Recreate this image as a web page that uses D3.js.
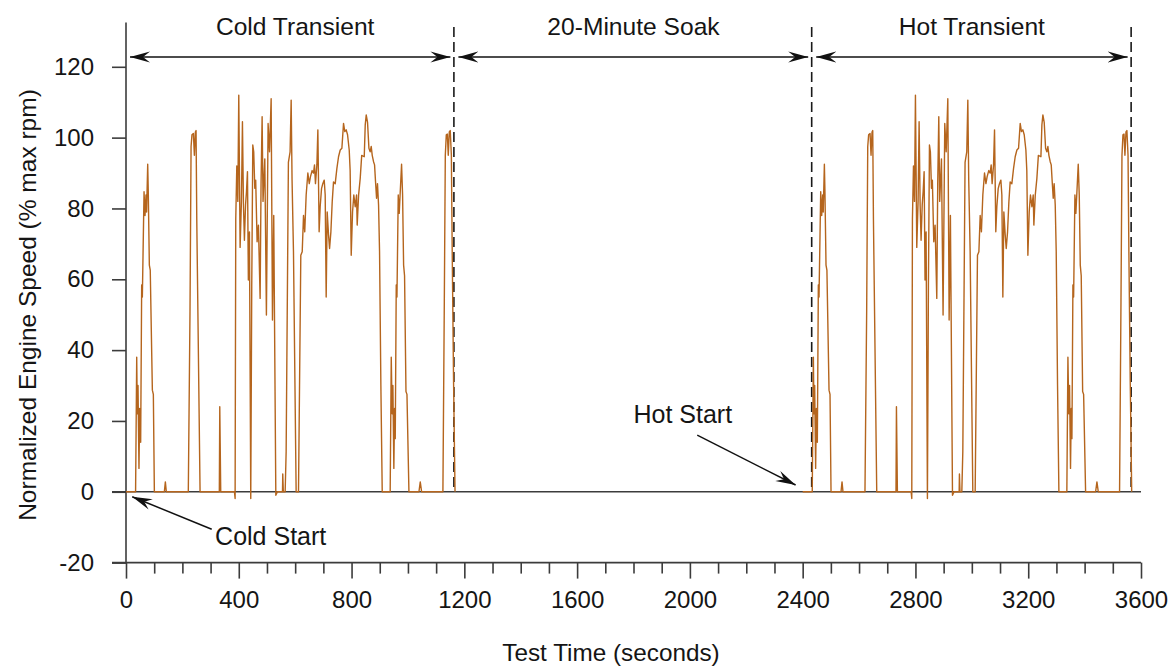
<!DOCTYPE html>
<html>
<head>
<meta charset="utf-8">
<script src="https://cdn.jsdelivr.net/npm/d3@7"></script>
<style>
  html, body { margin: 0; padding: 0; background: #ffffff; }
  svg { display: block; font-family: "Liberation Sans", Arial, sans-serif; }
</style>
</head>
<body>
<svg id="chart" width="1172" height="667"></svg>
<script>
// ---------------- DATA ----------------
// One FTP transient cycle (time in s, normalized speed in % of max rpm)
const cycleTime = [
  0, 34, 38, 40, 42.6, 46, 48.6, 52, 55.6, 58, 64, 67.5, 71, 73, 77, 79, 82.8, 86, 93.5, 97, 100.6,
  136, 139.6, 143, 221, 227, 230.8, 234, 239, 242.5, 246, 248.5, 251, 262.7,
  331, 332.6, 336, 384.6, 387, 389.3, 393, 396.6, 400, 404.7, 409.4, 413, 416.6, 420, 424, 427.3,
  430.8, 434, 437.8, 442.5, 446, 449.7, 453, 456.8, 460, 465, 469.7, 475.7, 479, 482.8, 486, 492.3,
  498, 504, 509, 514.8, 519.5, 524, 531.4, 537, 555, 556, 558, 564.5, 568, 576, 582, 585.8, 589, 594,
  603.5, 611.8, 620, 625, 629.6, 634, 639, 645, 650, 654.3, 660, 665, 668.6, 672, 677, 680.5, 685,
  688.7, 693.5, 698, 703, 706.5, 710, 713.6, 718.3, 722, 726.7, 731.4, 736, 742, 748, 753.8, 759.8,
  765.7, 771.5, 776, 781, 785.8, 791.7, 795, 798.8, 803.5, 808, 813, 817.7, 820, 825, 830.7, 836,
  845, 848.5, 852, 856.7, 861.6, 866, 869.8, 873.3, 878, 881.6, 885, 888.7, 892, 895.8, 899.3, 904,
  908.8, 937, 940.8, 944, 946.6, 950, 952.6, 955, 958.5, 961, 965.6, 969, 972.7, 977.4, 981, 984.6,
  988, 993, 996.5, 1003.5, 1039, 1043.7, 1048.5, 1124, 1129, 1132.5, 1136, 1139.7, 1143, 1146.7,
  1150, 1154, 1157, 1162, 1167
];
const cycleSpeed = [
  0, 0, 38, 22, 30, 6.6, 23.5, 14, 58.4, 55, 84.7, 78, 83.8, 79, 92.5, 84.7, 64, 62.6, 28.7, 27.5, 0,
  0, 2.8, 0, 0, 51, 97.5, 100.8, 101.2, 95, 101.6, 102, 77, 0,
  0, 24, 0, 0, -1.9, 77, 92, 82, 112, 69, 82, 104.5, 81, 71, 81, 84.7,
  90.4, 59.8, 73.4, -1.9, 58, 97.9, 96, 85.7, 88, 70.6, 75.3, 54.6, 87, 105.9, 82, 94,
  49.9, 104, 96, 111, 48.5, 78, -1, 0, 0, 5, 0, 0, 11.3, 93, 96, 110.6, 88, 67.8,
  0, 0, 66.8, 67.8, 78, 73.4, 83.8, 90, 87, 89, 90.7, 90, 92.3, 87, 92.3, 102.2, 73.4,
  80.5, 85.6, 87, 88, 83.8, 55, 79, 72.6, 68.7, 73.4, 81.9, 87.5, 87, 91.3, 94.6, 96.5,
  97, 104, 101.7, 102.2, 100.8, 96.5, 90.7, 66.8, 79, 83.8, 80.5, 83.8, 75.3, 83.8, 88.5, 95,
  94.6, 103.6, 106.4, 104.3, 97, 96, 97.5, 95, 93.2, 92.3, 87.6, 82.9, 87, 81, 67.8, 30,
  0, 0, 38, 22, 30, 6.6, 23.5, 15, 58.4, 55, 83.8, 78.6, 84.7, 92.5, 83.8, 64,
  61, 28.3, 27.5, 0, 0, 2.8, 0, 0, 53.7, 95, 100.8, 101, 95, 101.6,
  102, 95, 67.8, 30, 0
];
// The cycle is run twice: cold start at 0 s, hot start after the soak
const cycleOffsets = [0, 2400];

// Test phases
const phaseBounds = [0, 1163, 2432, 3565];
const phaseNames = ["Cold Transient", "20-Minute Soak", "Hot Transient"];
const phaseLabelTimes = [600, 1800, 3000];

// Axes
const yTicks = [-20, 0, 20, 40, 60, 80, 100, 120];
const yTickLabels = ["-20", "0", "20", "40", "60", "80", "100", "120"];
const xMajorTicks = [0, 400, 800, 1200, 1600, 2000, 2400, 2800, 3200, 3600];
const xTickLabels = ["0", "400", "800", "1200", "1600", "2000", "2400", "2800", "3200", "3600"];
const xMinorTicks = [100, 200, 300, 500, 600, 700, 900, 1000, 1100, 1300, 1400, 1500, 1700, 1800,
  1900, 2100, 2200, 2300, 2500, 2600, 2700, 2900, 3000, 3100, 3300, 3400, 3500];

// Annotations (data coordinates)
const annoLabels = ["Cold Start", "Hot Start"];
const annoTextT = [316, 1800];
const annoTextV = [-15, 19.4];
const annoFromT = [304, 2026];
const annoFromV = [-10.6, 16];
const annoToT = [22, 2375];
const annoToV = [-1.4, 1.9];

// ---------------- CHART ----------------
const svg = d3.select("#chart");
const W = 1172, H = 667;
const x = d3.scaleLinear().domain([0, 3600]).range([126, 1141]);
const y = d3.scaleLinear().domain([-20, 120]).range([562.6, 66.8]);
const yAxisTop = 132.5;

const axisColor = "#3c3c3c";
const textColor = "#151515";
const traceColor = "#b5651d";
const fontSize = 24;
const fontFamily = '"Liberation Sans", Arial, sans-serif';

svg.append("rect").attr("width", W).attr("height", H).attr("fill", "#fff");

const defs = svg.append("defs");
defs.append("marker")
  .attr("id", "arrow")
  .attr("viewBox", "-20 -6 21 12")
  .attr("refX", 0).attr("refY", 0)
  .attr("markerUnits", "userSpaceOnUse")
  .attr("markerWidth", 21).attr("markerHeight", 12)
  .attr("orient", "auto-start-reverse")
  .append("path")
  .attr("d", "M0,0 L-20,-5.5 L-13,0 L-20,5.5 Z")
  .attr("fill", "#111");

// Zero line
svg.append("line")
  .attr("x1", x(0) - 14).attr("x2", x(3600))
  .attr("y1", y(0)).attr("y2", y(0))
  .attr("stroke", axisColor).attr("stroke-width", 1.6);

// Y axis
const yAxis = svg.append("g")
  .attr("transform", `translate(${x(0)},0)`)
  .call(d3.axisLeft(y).tickValues(yTicks).tickSize(14).tickPadding(18)
    .tickFormat((d, i) => yTickLabels[i]));
yAxis.select(".domain").remove();
yAxis.selectAll(".tick line").attr("stroke", axisColor).attr("stroke-width", 1.6);
yAxis.selectAll(".tick text").attr("fill", textColor).style("font-size", fontSize + "px")
  .style("font-family", fontFamily);
svg.append("line")
  .attr("x1", x(0)).attr("x2", x(0))
  .attr("y1", y(yAxisTop)).attr("y2", y(-20))
  .attr("stroke", axisColor).attr("stroke-width", 1.6);

// X axis
const xAxisMajor = svg.append("g")
  .attr("transform", `translate(0,${y(-20)})`)
  .call(d3.axisBottom(x).tickValues(xMajorTicks).tickSize(16).tickPadding(12.5)
    .tickFormat((d, i) => xTickLabels[i]));
xAxisMajor.select(".domain").remove();
xAxisMajor.selectAll(".tick line").attr("stroke", axisColor).attr("stroke-width", 1.6);
xAxisMajor.selectAll(".tick text").attr("fill", textColor).style("font-size", fontSize + "px")
  .style("font-family", fontFamily);
const xAxisMinor = svg.append("g")
  .attr("transform", `translate(0,${y(-20)})`)
  .call(d3.axisBottom(x).tickValues(xMinorTicks).tickSize(11).tickFormat(""));
xAxisMinor.select(".domain").remove();
xAxisMinor.selectAll(".tick line").attr("stroke", axisColor).attr("stroke-width", 1.6);
svg.append("line")
  .attr("x1", x(0) - 14).attr("x2", x(3600))
  .attr("y1", y(-20)).attr("y2", y(-20))
  .attr("stroke", axisColor).attr("stroke-width", 1.6);

// Axis titles
svg.append("text")
  .attr("x", 611).attr("y", 661)
  .attr("text-anchor", "middle")
  .attr("fill", textColor).style("font-size", "24.3px")
  .text("Test Time (seconds)");
svg.append("text")
  .attr("transform", "translate(36,305) rotate(-90)")
  .attr("text-anchor", "middle")
  .attr("fill", textColor).style("font-size", "24.5px")
  .text("Normalized Engine Speed (% max rpm)");

// Phase boundaries (dashed)
svg.selectAll(".phase-line")
  .data(phaseBounds.slice(1))
  .join("line")
  .attr("class", "phase-line")
  .attr("x1", d => x(d)).attr("x2", d => x(d))
  .attr("y1", 27).attr("y2", y(0))
  .attr("stroke", "#1a1a1a").attr("stroke-width", 1.6)
  .attr("stroke-dasharray", "10,5");

// Phase arrows
const arrowY = 57;
svg.selectAll(".phase-arrow")
  .data(d3.range(phaseNames.length))
  .join("line")
  .attr("class", "phase-arrow")
  .attr("x1", i => x(phaseBounds[i]) + (i === 0 ? 4 : 4.5))
  .attr("x2", i => x(phaseBounds[i + 1]) - 3.5)
  .attr("y1", arrowY).attr("y2", arrowY)
  .attr("stroke", "#111").attr("stroke-width", 1.5)
  .attr("marker-start", "url(#arrow)")
  .attr("marker-end", "url(#arrow)");
svg.selectAll(".phase-label")
  .data(d3.range(phaseNames.length))
  .join("text")
  .attr("class", "phase-label")
  .attr("x", i => x(phaseLabelTimes[i]))
  .attr("y", 35)
  .attr("text-anchor", "middle")
  .attr("fill", textColor).style("font-size", "24.6px")
  .text(i => phaseNames[i]);

// Speed trace (each run of the cycle)
const idx = d3.range(cycleTime.length);
cycleOffsets.forEach(off => {
  const gen = d3.line()
    .x(i => x(cycleTime[i] + off))
    .y(i => y(cycleSpeed[i]));
  svg.append("path")
    .attr("d", gen(idx))
    .attr("fill", "none")
    .attr("stroke", traceColor)
    .attr("stroke-width", 1.4)
    .attr("stroke-linejoin", "round");
});

// Annotations
annoLabels.forEach((lab, i) => {
  svg.append("line")
    .attr("x1", x(annoFromT[i])).attr("y1", y(annoFromV[i]))
    .attr("x2", x(annoToT[i])).attr("y2", y(annoToV[i]))
    .attr("stroke", "#111").attr("stroke-width", 1.5)
    .attr("marker-end", "url(#arrow)");
  svg.append("text")
    .attr("x", x(annoTextT[i])).attr("y", y(annoTextV[i]))
    .attr("fill", textColor).style("font-size", "25px")
    .text(lab);
});
</script>
</body>
</html>
